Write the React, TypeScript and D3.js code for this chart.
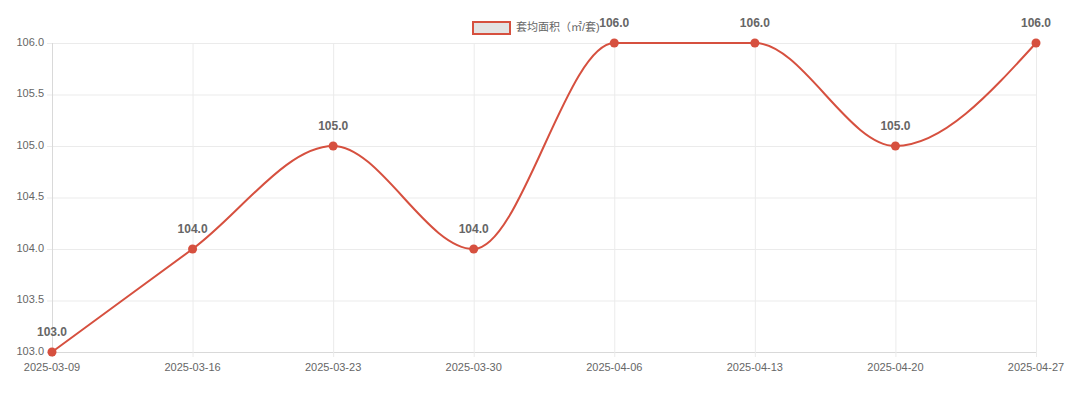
import React, { useEffect, useRef } from 'react';
import * as d3 from 'd3';

const dates = ['2025-03-09', '2025-03-16', '2025-03-23', '2025-03-30', '2025-04-06', '2025-04-13', '2025-04-20', '2025-04-27'];
const avgArea = [103.0, 104.0, 105.0, 104.0, 106.0, 106.0, 105.0, 106.0];
const yTicks = [103.0, 103.5, 104.0, 104.5, 105.0, 105.5, 106.0];
const seriesName = '套均面积（㎡/套)';

const W = 1080;
const H = 397;
const red = '#d6503f';
const font = '"Helvetica Neue", Arial, "Liberation Sans", "Noto Sans CJK SC", sans-serif';

const App = () => {
  const svgRef = useRef<SVGSVGElement>(null);

  useEffect(() => {
    const svg = d3.select(svgRef.current);
    svg.selectAll('*').remove();

    const margin = { top: 43, right: 44, bottom: 45, left: 52 };

    const x = d3.scalePoint<string>()
      .domain(dates)
      .range([margin.left, W - margin.right]);

    const y = d3.scaleLinear()
      .domain([103, 106])
      .range([H - margin.bottom, margin.top]);

    // grid
    svg.append('g')
      .selectAll('line.hg')
      .data(yTicks)
      .join('line')
      .attr('x1', margin.left - 5)
      .attr('x2', W - margin.right)
      .attr('y1', d => y(d) + 0.5)
      .attr('y2', d => y(d) + 0.5)
      .attr('stroke', d => (d === 103 ? '#d9d9d9' : '#ebebeb'))
      .attr('stroke-width', 1);

    svg.append('g')
      .selectAll('line.vg')
      .data(dates)
      .join('line')
      .attr('x1', d => x(d)! + 0.5)
      .attr('x2', d => x(d)! + 0.5)
      .attr('y1', margin.top)
      .attr('y2', H - margin.bottom + 5)
      .attr('stroke', (d, i) => (i === 0 ? '#d9d9d9' : '#ebebeb'))
      .attr('stroke-width', 1);

    // y tick labels
    svg.append('g')
      .selectAll('text')
      .data(yTicks)
      .join('text')
      .attr('x', margin.left - 8)
      .attr('y', d => y(d))
      .attr('text-anchor', 'end')
      .attr('dominant-baseline', 'middle')
      .attr('fill', '#666')
      .attr('font-family', font)
      .attr('font-size', 11)
      .text(d => d.toFixed(1));

    // x tick labels
    svg.append('g')
      .selectAll('text')
      .data(dates)
      .join('text')
      .attr('x', d => x(d)!)
      .attr('y', H - margin.bottom + 16)
      .attr('text-anchor', 'middle')
      .attr('dominant-baseline', 'middle')
      .attr('fill', '#666')
      .attr('font-family', font)
      .attr('font-size', 11)
      .text(d => d);

    const pts = dates.map((d, i) => ({ d, v: avgArea[i] }));

    const line = d3.line<{ d: string; v: number }>()
      .x(p => x(p.d)!)
      .y(p => y(p.v))
      .curve(d3.curveMonotoneX);

    svg.append('path')
      .datum(pts)
      .attr('d', line)
      .attr('fill', 'none')
      .attr('stroke', red)
      .attr('stroke-width', 2);

    svg.append('g')
      .selectAll('circle')
      .data(pts)
      .join('circle')
      .attr('cx', p => x(p.d)!)
      .attr('cy', p => y(p.v))
      .attr('r', 4.5)
      .attr('fill', red);

    svg.append('g')
      .selectAll('text')
      .data(pts)
      .join('text')
      .attr('x', p => x(p.d)!)
      .attr('y', p => y(p.v) - 19)
      .attr('text-anchor', 'middle')
      .attr('dominant-baseline', 'middle')
      .attr('fill', '#666')
      .attr('font-family', font)
      .attr('font-weight', 'bold')
      .attr('font-size', 12)
      .text(p => p.v.toFixed(1));

    // legend
    const lg = svg.append('g');
    lg.append('rect')
      .attr('x', 473)
      .attr('y', 22)
      .attr('width', 37)
      .attr('height', 12)
      .attr('fill', '#e3e3e3')
      .attr('stroke', red)
      .attr('stroke-width', 2);
    lg.append('text')
      .attr('x', 516)
      .attr('y', 28.5)
      .attr('dominant-baseline', 'middle')
      .attr('fill', '#666')
      .attr('font-family', font)
      .attr('font-size', 11)
      .text(seriesName);
  }, []);

  return (
    <svg
      ref={svgRef}
      width={W}
      height={H}
      viewBox={`0 0 ${W} ${H}`}
      style={{ position: 'absolute', left: 0, top: 0, background: '#fff' }}
    />
  );
};

export default App;
